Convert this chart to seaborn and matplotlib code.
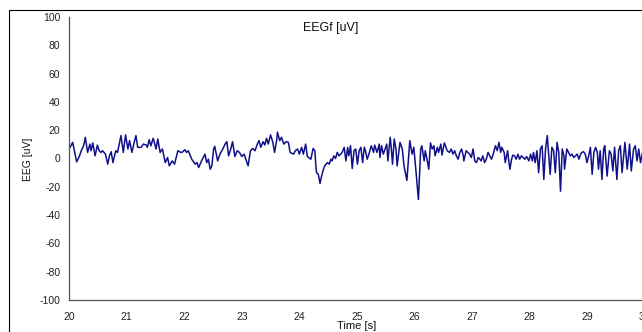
import numpy as np
import pandas as pd
import matplotlib
matplotlib.use("Agg")
import matplotlib.pyplot as plt
from matplotlib import font_manager
from matplotlib.patches import Rectangle
import seaborn as sns

# EEG trace (time in s, amplitude in uV), one list per two-second stretch
seg_20_22 = [(20.00, 6.7), (20.06, 11.4), (20.13, -2.4), (20.18, 1.9), (20.21, 5.5), (20.25, 9.0),
             (20.28, 15.0), (20.32, 4.3), (20.36, 10.2), (20.38, 5.5), (20.41, 11.0), (20.45, 1.9),
             (20.49, 9.5), (20.52, 5.5), (20.55, 4.3), (20.58, 5.5), (20.63, 3.1), (20.67, -4.0),
             (20.70, 1.9), (20.73, 4.8), (20.76, -2.9), (20.81, 5.5), (20.84, 4.3), (20.87, 10.2),
             (20.90, 16.2), (20.94, 4.3), (20.98, 16.7), (21.02, 6.7), (21.05, 12.6), (21.09, 4.3),
             (21.13, 11.4), (21.16, 16.2), (21.19, 7.9), (21.25, 7.9), (21.29, 10.2), (21.34, 9.5),
             (21.36, 7.9), (21.39, 13.3), (21.42, 9.0), (21.46, 14.3), (21.51, 6.7), (21.54, 13.8),
             (21.58, 4.3), (21.62, 6.7), (21.67, -2.9), (21.71, 0.7), (21.74, -5.2), (21.79, -1.7),
             (21.83, -4.0), (21.86, 0.7), (21.89, 5.5), (21.94, 4.3)]

seg_22_24 = [(21.96, 4.3), (22.01, 6.2), (22.04, 4.3), (22.07, 5.5), (22.10, 2.4), (22.13, -0.5),
             (22.19, -4.0), (22.22, -2.9), (22.25, -6.4), (22.30, -1.7), (22.36, 3.1), (22.39, -2.9),
             (22.42, -0.5), (22.45, -7.6), (22.48, -5.2), (22.51, 6.7), (22.53, 8.6), (22.58, -1.7),
             (22.62, 3.1), (22.67, 6.7), (22.71, 10.2), (22.74, 11.9), (22.77, 1.9), (22.80, 5.5),
             (22.84, 11.9), (22.88, 1.4), (22.92, 5.5), (22.96, 4.3), (23.00, 1.4), (23.04, 3.1),
             (23.07, -0.5), (23.11, -5.2), (23.15, 5.5), (23.19, 7.1), (23.23, 5.5), (23.27, 10.2),
             (23.30, 12.6), (23.33, 7.9), (23.37, 11.9), (23.40, 9.5), (23.43, 14.3), (23.46, 10.2),
             (23.50, 16.7), (23.54, 11.4), (23.57, 4.3), (23.61, 13.8), (23.62, 18.6), (23.66, 12.6),
             (23.69, 15.0), (23.73, 10.2), (23.77, 11.9), (23.81, 11.4), (23.84, 4.3), (23.90, 3.1)]

seg_24_26 = [(23.93, 5.5), (23.97, 6.7), (24.00, 3.1), (24.04, 7.9), (24.07, 3.1), (24.11, 10.2),
             (24.14, 1.4), (24.20, -0.5), (24.24, 7.1), (24.27, 5.5), (24.29, -6.4), (24.30, -10.0),
             (24.33, -11.2), (24.36, -17.6), (24.38, -13.6), (24.42, -7.6), (24.44, -5.2), (24.49, -2.9),
             (24.52, -4.0), (24.55, -0.5), (24.57, -1.7), (24.60, 1.9), (24.63, 0.0), (24.66, 4.3),
             (24.69, 1.9), (24.72, 3.1), (24.75, 4.8), (24.78, 7.9), (24.81, -1.7), (24.84, 7.9),
             (24.86, 1.9), (24.89, 9.0), (24.92, -7.1), (24.95, 5.5), (24.98, 6.7), (25.01, -4.0),
             (25.04, 5.5), (25.07, 7.9), (25.10, -2.9), (25.13, 7.9), (25.15, 5.5), (25.18, -0.5),
             (25.21, 3.1), (25.25, 9.0), (25.29, 4.3), (25.31, 9.5), (25.35, 4.3), (25.39, 10.2),
             (25.40, 0.7), (25.43, 9.0), (25.46, 3.1), (25.48, 5.5), (25.52, 10.2), (25.54, -1.7),
             (25.58, 15.0), (25.60, 6.7), (25.62, -4.0), (25.65, 13.8), (25.68, 6.7), (25.70, -5.2),
             (25.75, 11.4), (25.79, 6.7), (25.82, -5.2), (25.87, -15.5), (25.92, 12.6), (25.96, 3.1),
             (25.99, 7.9)]

seg_26_28 = [(26.03, -10.0), (26.07, -29.0), (26.11, 6.7), (26.13, 9.0), (26.17, -1.7), (26.19, 5.5),
             (26.23, -2.9), (26.25, -7.6), (26.28, 11.0), (26.31, 6.7), (26.34, 9.0), (26.36, 1.9),
             (26.40, 7.9), (26.42, 4.3), (26.46, 10.2), (26.48, 2.4), (26.52, 11.0), (26.54, 9.0),
             (26.57, 5.5), (26.61, 4.3), (26.64, 6.7), (26.67, 3.1), (26.70, 5.5), (26.73, 1.9),
             (26.76, -0.5), (26.79, 4.3), (26.82, 6.7), (26.85, 1.9), (26.86, -1.7), (26.90, 5.5),
             (26.93, 4.3), (26.96, 3.1), (26.99, 0.7), (27.02, 6.7), (27.05, -1.7), (27.08, -2.9),
             (27.11, 0.7), (27.14, -0.5), (27.16, -1.7), (27.19, 1.9), (27.22, -2.9), (27.25, -0.5),
             (27.28, 4.3), (27.31, 1.9), (27.34, -0.5), (27.37, 3.1), (27.41, 9.0), (27.44, 5.5),
             (27.47, 11.4), (27.50, 4.3), (27.52, 7.9), (27.56, 4.3), (27.58, -2.9), (27.62, 5.5),
             (27.63, 1.9), (27.66, -7.6), (27.69, -0.5), (27.71, 2.4), (27.74, 1.9), (27.77, -0.5),
             (27.80, 3.1), (27.83, -0.5), (27.86, 1.9), (27.89, 0.7), (27.92, -0.5), (27.95, 1.4)]

seg_28_30 = [(27.99, -1.7), (28.02, 3.1), (28.05, -1.7), (28.07, 4.3), (28.10, -2.9), (28.13, 5.5),
             (28.16, -10.0), (28.19, 6.7), (28.22, 9.0), (28.25, -14.8), (28.28, 6.7), (28.31, 16.2),
             (28.34, -0.5), (28.36, -11.2), (28.39, 7.9), (28.42, 5.5), (28.45, -10.0), (28.48, 11.4),
             (28.51, 4.3), (28.54, -23.1), (28.57, 6.7), (28.60, 1.9), (28.61, -7.6), (28.65, 6.7),
             (28.68, 4.3), (28.71, 1.9), (28.74, 3.1), (28.77, 0.7), (28.80, 1.9), (28.83, 3.1),
             (28.86, -0.5), (28.89, 3.1), (28.91, 4.3), (28.94, 4.8), (28.97, 3.1), (29.00, -2.9),
             (29.03, 1.9), (29.06, 7.9), (29.09, -11.2), (29.12, 4.3), (29.15, 7.9), (29.18, 4.3),
             (29.20, -7.6), (29.23, 5.5), (29.26, -14.8), (29.29, 6.7), (29.31, 9.0), (29.35, -12.4),
             (29.39, 5.5), (29.42, 3.1), (29.45, -8.8), (29.48, 7.9), (29.52, -14.8), (29.55, 5.5),
             (29.58, 9.0), (29.61, -10.0), (29.66, 11.4), (29.70, -7.6), (29.74, 10.2), (29.77, -8.8),
             (29.81, 6.7), (29.84, 9.0), (29.87, -1.7), (29.90, 6.7), (29.93, -2.9), (29.97, 5.0),
             (30.00, -3.0)]

x_ticks = list(range(20, 31))
y_ticks = list(range(-100, 101, 20))
chart_title = "EEGf [uV]"
x_label = "Time [s]"
y_label = "EEG [uV]"

rows = seg_20_22 + seg_22_24 + seg_24_26 + seg_26_28 + seg_28_30
df = pd.DataFrame(rows, columns=["time", "eeg"])

sns.set_style("white")


def pick_font(names):
    for n in names:
        try:
            font_manager.findfont(font_manager.FontProperties(family=n), fallback_to_default=False)
            return n
        except Exception:
            continue
    return "DejaVu Sans"


narrow = pick_font(["Liberation Sans Narrow", "Liberation Sans", "Arial"])
regular = pick_font(["Liberation Sans", "Arial"])
plt.rcParams["font.family"] = [regular]

W, H = 642, 332
fig = plt.figure(figsize=(W / 100, H / 100), dpi=100)
fig.patch.set_facecolor("white")

# plot area: x 20 -> 69 px, x 30 just past the right edge; y 100 -> 17 px, y -100 -> 300 px
ax = fig.add_axes([69.2 / W, (H - 300) / H, (644.5 - 69.2) / W, (300 - 17) / H])
ax.set_facecolor("white")

sns.lineplot(data=df, x="time", y="eeg", ax=ax, color="#10108a", linewidth=1.1,
             estimator=None, sort=False)

ax.set_xlim(20, 30)
ax.set_ylim(-100, 100)
ax.set_xticks(x_ticks)
ax.set_yticks(y_ticks)
ax.set_xticklabels([str(v) for v in x_ticks], fontfamily=narrow, fontsize=7.5)
ax.set_yticklabels([str(v) for v in y_ticks], fontfamily=narrow, fontsize=7.5)
ax.set_xlabel("")
ax.set_ylabel("")

for side in ["top", "right"]:
    ax.spines[side].set_visible(False)
for side in ["left", "bottom"]:
    ax.spines[side].set_color("#555555")
    ax.spines[side].set_linewidth(0.9)

ax.tick_params(axis="x", direction="out", length=3, width=0.8, color="#555555", pad=6, labelcolor="#222222")
ax.tick_params(axis="y", direction="out", length=3.5, width=0.8, color="#555555", pad=3, labelcolor="#222222")
ax.grid(False)

fig.text(331 / W, (H - 28) / H, chart_title, ha="center", va="center", fontsize=9, color="#111111")
fig.text(357 / W, (H - 326) / H, x_label, ha="center", va="center", fontsize=8,
         fontfamily=narrow, color="#111111")
fig.text(28 / W, (H - 159) / H, y_label, ha="center", va="center", rotation=90, fontsize=7.5,
         color="#111111")

# chart frame
frame = Rectangle((9 / W, -0.2), 1.2, (H - 10) / H + 0.2, transform=fig.transFigure,
                  fill=False, edgecolor="black", linewidth=0.8, clip_on=False)
fig.patches.append(frame)

fig.savefig("out.png", dpi=100, facecolor="white")
